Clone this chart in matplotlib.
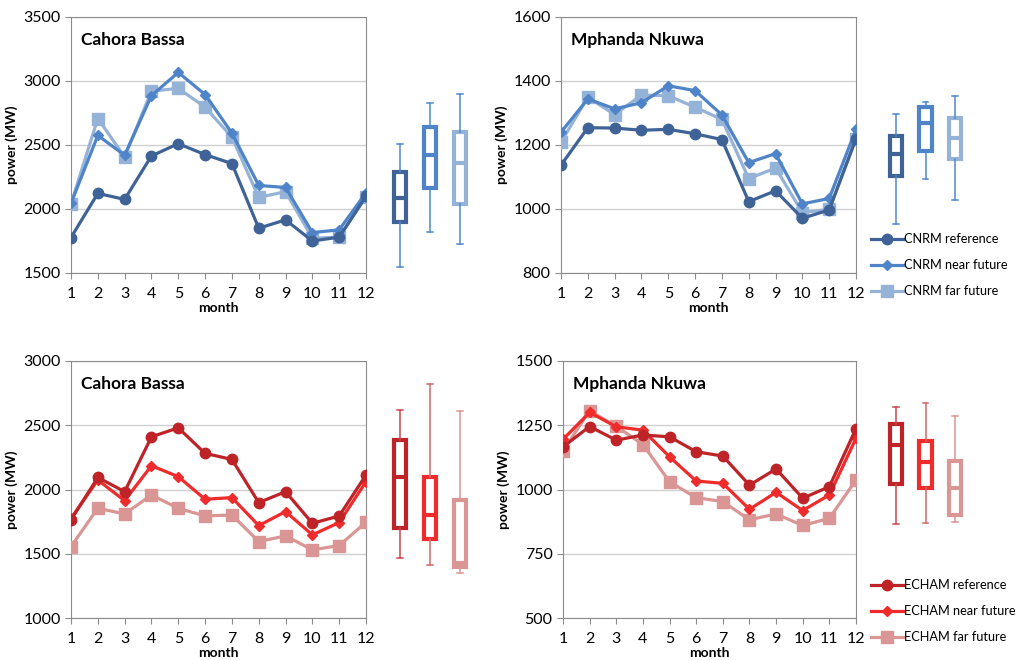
import matplotlib
matplotlib.use('Agg')
import matplotlib.pyplot as plt

plt.rcParams['font.family'] = ['Lato', 'DejaVu Sans']

months = list(range(1, 13))

# CNRM, Cahora Bassa
cnrm_cb_ref  = [1777, 2122, 2075, 2415, 2510, 2425, 2355, 1850, 1915, 1750, 1780, 2100]
cnrm_cb_near = [2044, 2575, 2420, 2886, 3067, 2894, 2593, 2184, 2168, 1816, 1837, 2127]
cnrm_cb_far  = [2039, 2707, 2407, 2920, 2943, 2795, 2562, 2091, 2135, 1772, 1780, 2096]

# CNRM, Mphanda Nkuwa
cnrm_mn_ref  = [1137, 1254, 1253, 1246, 1249, 1235, 1217, 1023, 1057, 971, 997, 1220]
cnrm_mn_near = [1240, 1344, 1313, 1332, 1385, 1370, 1294, 1145, 1173, 1016, 1033, 1249]
cnrm_mn_far  = [1209, 1349, 1295, 1356, 1354, 1318, 1280, 1095, 1128, 989, 999, 1220]

# ECHAM, Cahora Bassa
echam_cb_ref  = [1763, 2094, 1983, 2410, 2480, 2281, 2234, 1898, 1983, 1737, 1794, 2113]
echam_cb_near = [1776, 2074, 1913, 2185, 2100, 1924, 1937, 1719, 1828, 1647, 1743, 2061]
echam_cb_far  = [1556, 1854, 1810, 1957, 1854, 1794, 1802, 1595, 1639, 1530, 1564, 1745]

# ECHAM, Mphanda Nkuwa
echam_mn_ref  = [1166, 1245, 1192, 1212, 1205, 1147, 1130, 1017, 1080, 966, 1011, 1237]
echam_mn_near = [1195, 1300, 1244, 1231, 1127, 1033, 1024, 923, 989, 918, 979, 1199]
echam_mn_far  = [1151, 1306, 1246, 1175, 1030, 968, 953, 882, 905, 860, 888, 1037]

# box stats: whislo, q1, med, q3, whishi
box_cnrm_cb = [[1549, 1901, 2083, 2292, 2508],
               [1818, 2162, 2422, 2643, 2831],
               [1724, 2039, 2357, 2604, 2898]]
box_cnrm_mn = [[953, 1103, 1172, 1228, 1296],
               [1093, 1181, 1268, 1320, 1335],
               [1028, 1156, 1221, 1283, 1354]]
box_echam_cb = [[1470, 1703, 2100, 2385, 2619],
                [1410, 1612, 1799, 2095, 2821],
                [1353, 1400, 1425, 1918, 2613]]
box_echam_mn = [[865, 1022, 1173, 1254, 1320],
                [871, 1005, 1106, 1190, 1336],
                [875, 899, 1005, 1112, 1286]]

scen = ['reference', 'near future', 'far future']
blues = ['#3F6397', '#4F85C8', '#95B3D7']
reds = ['#BE2327', '#F02B2B', '#D99694']
blue_whisk = ['#4F88CA', '#4F88CA', '#4F88CA']
red_whisk = ['#C8494B', '#D06A6A', '#D99694']
markers = ['o', 'D', 's']
msizes = [7.5, 5.5, 8]

W, H = 1016, 660
fig = plt.figure(figsize=(W / 100, H / 100), dpi=100)

def px(x0, y0, x1, y1):
    return [x0 / W, 1 - y1 / H, (x1 - x0) / W, (y1 - y0) / H]

def line_panel(rect, title, series, colors, ylim, yticks, model):
    ax = fig.add_axes(rect)
    for i, s in enumerate(series):
        ax.plot(months, s, color=colors[i], lw=2.3, marker=markers[i],
                ms=msizes[i], mec=colors[i], label=model + ' ' + scen[i],
                zorder=3 + (2 - i) * 0.1)
    ax.set_xlim(1, 12)
    ax.set_ylim(*ylim)
    ax.set_xticks(months)
    ax.set_yticks(yticks)
    ax.grid(axis='y', color='#D0D0D0', lw=1)
    ax.set_axisbelow(True)
    for sp in ax.spines.values():
        sp.set_color('#8C8C8C')
    ax.tick_params(colors='#8C8C8C', labelcolor='black', labelsize=11.5,
                   length=4, direction='out')
    ax.tick_params(axis='x', pad=6)
    ax.set_xlabel('month', fontsize=10, fontweight='bold', labelpad=0.5)
    ax.set_ylabel('power (MW)', fontsize=10, fontweight='bold', labelpad=4)
    ax.text(0.035, 0.94, title, transform=ax.transAxes, fontsize=12.5,
            fontweight='bold', va='top', ha='left')
    return ax

def box_panel(rect, stats, colors, wcolors, ylim):
    ax = fig.add_axes(rect)
    for i, b in enumerate(stats):
        st = [dict(whislo=b[0], q1=b[1], med=b[2], q3=b[3], whishi=b[4])]
        ax.bxp(st, positions=[i + 1], widths=0.42, showfliers=False,
               patch_artist=True,
               boxprops=dict(facecolor='white', edgecolor=colors[i], lw=3),
               medianprops=dict(color=colors[i], lw=3),
               whiskerprops=dict(color=wcolors[i], lw=1.1),
               capprops=dict(color=wcolors[i], lw=1.1),
               capwidths=0.2)
    ax.set_xlim(0.5, 3.5)
    ax.set_ylim(*ylim)
    ax.axis('off')
    return ax

ax1 = line_panel(px(71, 17, 366, 273), 'Cahora Bassa',
                 [cnrm_cb_ref, cnrm_cb_near, cnrm_cb_far], blues,
                 (1500, 3500), [1500, 2000, 2500, 3000, 3500], 'CNRM')
box_panel(px(385, 17, 475, 273), box_cnrm_cb, blues, blue_whisk, (1500, 3500))

ax2 = line_panel(px(561, 17, 856, 273), 'Mphanda Nkuwa',
                 [cnrm_mn_ref, cnrm_mn_near, cnrm_mn_far], blues,
                 (800, 1600), [800, 1000, 1200, 1400, 1600], 'CNRM')
box_panel(px(881, 17, 970, 273), box_cnrm_mn, blues, blue_whisk, (800, 1600))

ax3 = line_panel(px(71, 361, 366, 618), 'Cahora Bassa',
                 [echam_cb_ref, echam_cb_near, echam_cb_far], reds,
                 (1000, 3000), [1000, 1500, 2000, 2500, 3000], 'ECHAM')
box_panel(px(385, 361, 475, 618), box_echam_cb, reds, red_whisk, (1000, 3000))

ax4 = line_panel(px(563, 361, 856, 618), 'Mphanda Nkuwa',
                 [echam_mn_ref, echam_mn_near, echam_mn_far], reds,
                 (500, 1500), [500, 750, 1000, 1250, 1500], 'ECHAM')
box_panel(px(881, 361, 970, 618), box_echam_mn, reds, red_whisk, (500, 1500))

for ax, ytop in [(ax2, 228), (ax4, 574)]:
    h, l = ax.get_legend_handles_labels()
    fig.legend(h, l, loc='upper left', bbox_to_anchor=(866 / W, 1 - ytop / H),
               frameon=False, fontsize=9.2, handlelength=2.5,
               handletextpad=0.1, labelspacing=1.1, borderaxespad=0)

fig.savefig('out.png', dpi=100)
